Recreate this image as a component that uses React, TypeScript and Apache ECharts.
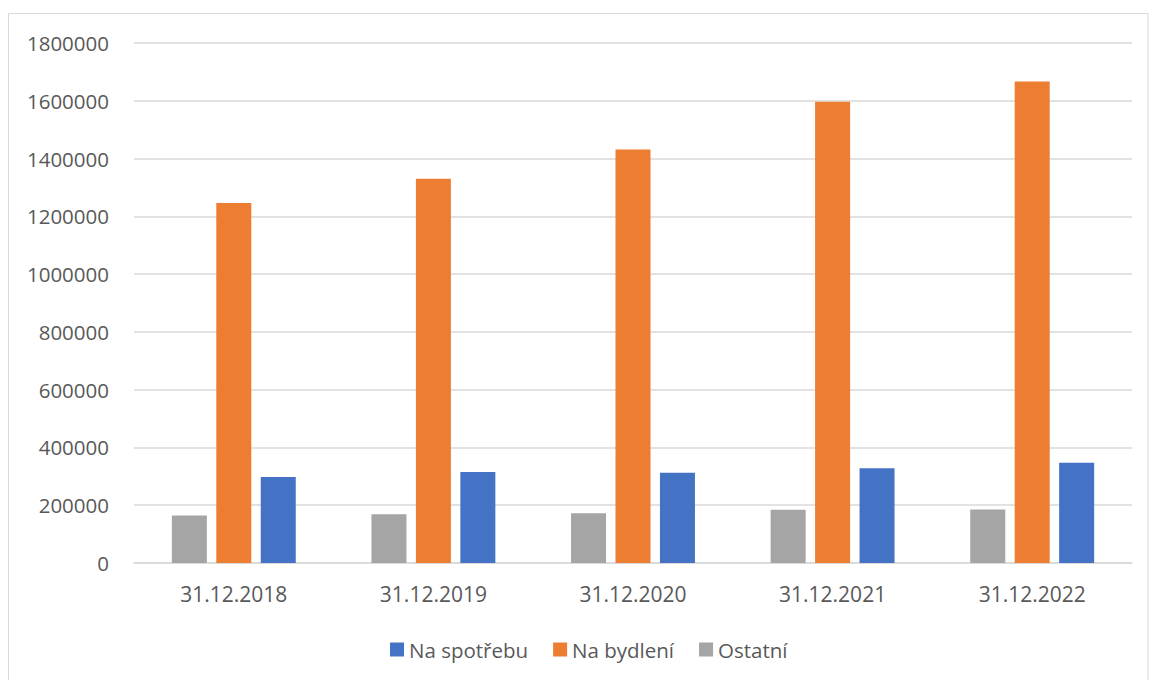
import React, { useEffect, useRef } from "react";
import * as echarts from "echarts";

const categories = ["31.12.2018", "31.12.2019", "31.12.2020", "31.12.2021", "31.12.2022"];
const ostatni = [164500, 169000, 172000, 184000, 185000];
const naBydleni = [1246000, 1330000, 1431000, 1597000, 1667000];
const naSpotrebu = [298000, 315000, 312000, 328000, 347000];
const legendOrder = ["Na spotřebu", "Na bydlení", "Ostatní"];

const FONT = "'Open Sans', sans-serif";
const TEXT = "#595959";

export default function App() {
  const ref = useRef<HTMLDivElement>(null);
  useEffect(() => {
    if (!ref.current) return;
    const chart = echarts.init(ref.current, null, { renderer: "svg" });
    chart.setOption({
      animation: false,
      backgroundColor: "#ffffff",
      graphic: [
        {
          type: "rect",
          shape: { x: 8.5, y: 13.5, width: 1139.5, height: 680 },
          style: { fill: "none", stroke: "#d9d9d9", lineWidth: 1 },
          silent: true,
        },
      ],
      grid: { left: 134, right: 17, top: 43, bottom: 117, containLabel: false },
      legend: {
        data: legendOrder,
        left: 385,
        top: 634,
        itemWidth: 14,
        itemHeight: 14,
        itemGap: 25,
        icon: "rect",
        textStyle: { fontFamily: FONT, fontSize: 20.5, color: TEXT },
      },
      xAxis: {
        type: "category",
        data: categories,
        axisLine: { show: true, lineStyle: { color: "#d9d9d9", width: 1.5 } },
        axisTick: { show: false },
        axisLabel: { fontFamily: FONT, fontSize: 21, color: TEXT, margin: 20 },
      },
      yAxis: {
        type: "value",
        min: 0,
        max: 1800000,
        interval: 200000,
        axisLine: { show: false },
        axisTick: { show: false },
        splitLine: { lineStyle: { color: "#d9d9d9", width: 1.5 } },
        axisLabel: {
          fontFamily: FONT,
          fontSize: 20.5,
          color: TEXT,
          margin: 25,
          formatter: (v: number) => String(v),
        },
      },
      series: [
        {
          name: "Ostatní",
          type: "bar",
          data: ostatni,
          barWidth: 35,
          barGap: "27%",
          itemStyle: { color: "#A5A5A5" },
        },
        {
          name: "Na bydlení",
          type: "bar",
          data: naBydleni,
          barWidth: 35,
          barGap: "27%",
          itemStyle: { color: "#ED7D31" },
        },
        {
          name: "Na spotřebu",
          type: "bar",
          data: naSpotrebu,
          barWidth: 35,
          barGap: "27%",
          itemStyle: { color: "#4472C4" },
        },
      ],
    });
    return () => chart.dispose();
  }, []);
  return (
    <div
      ref={ref}
      style={{ position: "absolute", left: 0, top: 0, width: 1149, height: 680 }}
    />
  );
}
